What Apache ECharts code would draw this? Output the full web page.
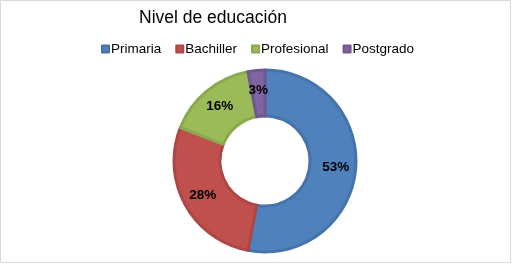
<!DOCTYPE html>
<html>
<head>
<meta charset="utf-8">
<script src="https://cdn.jsdelivr.net/npm/echarts@6/dist/echarts.min.js"></script>
<style>
html,body{margin:0;padding:0;background:#fff;}
#c{width:512px;height:264px;}
</style>
</head>
<body>
<div id="c"></div>
<script>
const titleText = "Nivel de educación";
const categories = ["Primaria", "Bachiller", "Profesional", "Postgrado"];
const values = [53, 28, 16, 3];
const colors = ["#4f81bd", "#c0504d", "#9bbb59", "#8064a2"];
const borderColors = ["#4673aa", "#ad4744", "#8aa84e", "#6f578f"];

const chart = echarts.init(document.getElementById('c'), null, {renderer: 'canvas'});
chart.setOption({
  animation: false,
  backgroundColor: '#ffffff',
  title: {
    text: titleText,
    left: 139, top: 9, padding: 0,
    textStyle: {fontFamily: 'Liberation Sans, Arial, sans-serif', fontSize: 17.5, fontWeight: 'normal', color: '#000'}
  },
  legend: {
    data: categories,
    left: 101, top: 42, padding: 0,
    icon: 'rect', itemWidth: 7, itemHeight: 7, itemGap: 14,
    textStyle: {fontFamily: 'Liberation Sans, Arial, sans-serif', fontSize: 13.5, color: '#000', padding: [0,0,0,-3]}
  },
  graphic: [{
    type: 'rect', silent: true,
    shape: {x: 0.5, y: 0.5, width: 510, height: 262},
    style: {fill: 'none', stroke: '#d9d9d9', lineWidth: 1}
  }],
  series: [{
    type: 'pie',
    center: [265, 161],
    radius: [45, 91],
    startAngle: 90,
    clockwise: true,
    label: {
      position: 'inside',
      formatter: '{c}%',
      fontFamily: 'Liberation Sans, Arial, sans-serif',
      fontSize: 13.5, fontWeight: 'bold', color: '#000'
    },
    labelLine: {show: false},
    data: categories.map((n, i) => ({
      name: n, value: values[i],
      itemStyle: {color: colors[i], borderColor: borderColors[i], borderWidth: 3}
    }))
  }]
});
</script>
</body>
</html>
